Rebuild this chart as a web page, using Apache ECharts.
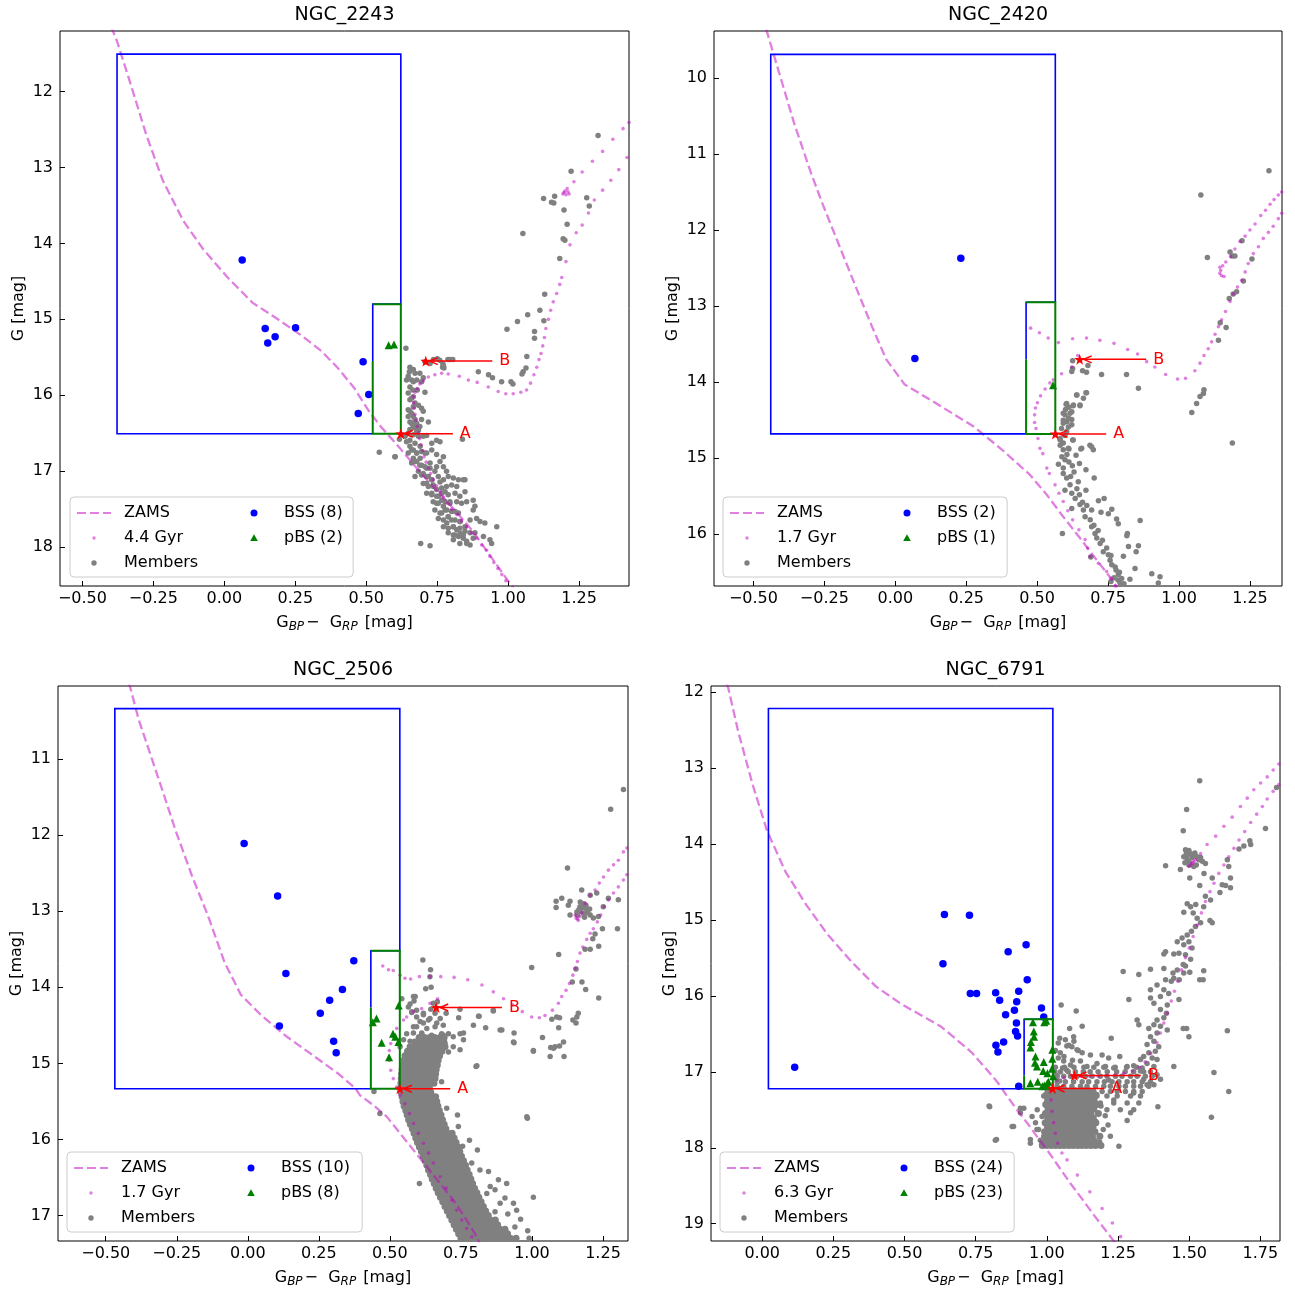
<!DOCTYPE html>
<html><head><meta charset="utf-8">
<script src="https://cdn.jsdelivr.net/npm/echarts@6/dist/echarts.min.js"></script>
<style>html,body{margin:0;padding:0;background:#fff}#c{width:1295px;height:1293px}</style>
</head><body><div id="c"></div>
<script>
// ---------------- DATA ----------------
const titles = ['NGC_2243','NGC_2420','NGC_2506','NGC_6791'];
const isoLabels = ['4.4 Gyr','1.7 Gyr','1.7 Gyr','6.3 Gyr'];
const bssLabels = ['BSS (8)','BSS (2)','BSS (10)','BSS (24)'];
const pbsLabels = ['pBS (2)','pBS (1)','pBS (8)','pBS (23)'];
const xTickValues = [[-0.5,-0.25,0,0.25,0.5,0.75,1,1.25],[-0.5,-0.25,0,0.25,0.5,0.75,1,1.25],[-0.5,-0.25,0,0.25,0.5,0.75,1,1.25],[0,0.25,0.5,0.75,1,1.25,1.5,1.75]];
const yTickValues = [[12,13,14,15,16,17,18],[10,11,12,13,14,15,16],[11,12,13,14,15,16,17],[12,13,14,15,16,17,18,19]];
const xLimits = [[-0.579,1.426],[-0.639,1.363],[-0.668,1.338],[-0.180,1.819]];
const yLimits = [[11.205,18.51],[9.383,16.68],[10.039,17.335],[11.924,19.227]];
// BSS region [left,right,top,bottom,pbsLeft,pbsTop,B mag]
const regionBoxes = [[-0.378,0.622,11.51,16.506,0.523,14.80,15.55],[-0.439,0.564,9.69,14.68,0.461,12.95,13.70],[-0.468,0.535,10.336,15.333,0.433,13.52,14.265],[0.0217,1.021,12.22,17.224,0.920,16.31,17.05]];
// turn-off points A and B: [colour, mag, label colour]
const annotationLabels = ['A','B'];
const turnoffPoints = [
 [[0.622,16.506,0.830],[0.710,15.55,0.969]],
 [[0.564,14.68,0.768],[0.650,13.70,0.909]],
 [[0.535,15.333,0.737],[0.663,14.265,0.919]],
 [[1.020,17.22,1.226],[1.097,17.05,1.355]]];

// ---- NGC 2243 ----
const ngc2243BSS = [[0.063,14.22],[0.144,15.12],[0.153,15.31],[0.179,15.23],[0.251,15.11],[0.489,15.56],[0.509,15.99],[0.472,16.24]];
const ngc2243pBS = [[0.579,15.34],[0.598,15.33]];
const ngc2243Zams = [[-0.40,11.15],[-0.392,11.21],[-0.378,11.34],[-0.332,11.88],[-0.275,12.57],[-0.217,13.17],[-0.145,13.70],[-0.074,14.08],[0.012,14.45],[0.099,14.78],[0.185,14.99],[0.271,15.21],[0.343,15.42],[0.400,15.64],[0.457,15.90],[0.508,16.20],[0.551,16.41],[0.622,16.71],[0.701,17.06],[0.788,17.41],[0.874,17.78],[1.003,18.46],[1.020,18.54]];
const ngc2243Iso = [[0.992,18.44],[0.978,18.36],[0.964,18.28],[0.950,18.20],[0.936,18.12],[0.924,18.04],[0.907,17.97],[0.889,17.88],[0.871,17.81],[0.854,17.73],[0.836,17.65],[0.819,17.57],[0.801,17.50],[0.786,17.42],[0.772,17.34],[0.760,17.27],[0.748,17.19],[0.736,17.11],[0.727,17.03],[0.719,16.96],[0.711,16.88],[0.704,16.81],[0.699,16.73],[0.693,16.65],[0.688,16.57],[0.684,16.49],[0.680,16.41],[0.675,16.33],[0.672,16.25],[0.669,16.17],[0.667,16.10],[0.666,16.02],[0.672,15.96],[0.680,15.91],[0.689,15.85],[0.701,15.81],[0.719,15.76],[0.742,15.73],[0.766,15.71],[0.789,15.72],[0.828,15.75],[0.860,15.80],[0.891,15.83],[0.930,15.89],[0.965,15.95],[0.992,15.98],[1.018,15.98],[1.045,15.96],[1.065,15.93],[1.079,15.84],[1.091,15.73],[1.101,15.63],[1.109,15.53],[1.116,15.45],[1.122,15.35],[1.128,15.24],[1.133,15.12],[1.142,15.00],[1.150,14.88],[1.159,14.77],[1.171,14.66],[1.182,14.54],[1.189,14.45],[1.204,14.24],[1.218,14.02],[1.240,13.86],[1.261,13.76],[1.283,13.60],[1.304,13.43],[1.333,13.30],[1.362,13.17],[1.390,13.03],[1.419,12.87],
 [1.197,13.33],[1.204,13.36],[1.211,13.32],[1.215,13.35],[1.208,13.28],[1.200,13.31],[1.193,13.35],
 [1.232,13.19],[1.261,13.06],[1.297,12.92],[1.333,12.79],[1.369,12.63],[1.405,12.49],[1.426,12.41]];
const ngc2243Members = [
 [1.317,12.58],[1.222,13.05],[1.164,13.38],[1.125,13.41],[1.153,13.46],[1.161,13.47],[1.197,13.56],[1.277,13.40],[1.286,13.51],[1.208,13.75],[1.194,13.94],[1.200,13.96],[1.052,13.87],[1.182,14.20],[1.129,14.67],[1.069,14.94],[1.112,14.88],[1.126,15.02],[1.033,15.03],[0.996,15.13],[1.093,15.16],[1.093,15.25],[1.066,15.49],[1.063,15.64],[1.053,15.69],[1.049,15.72],[0.895,15.69],[0.931,15.73],[0.945,15.77],[0.977,15.82],[1.010,15.82],[1.017,15.85],
 [0.737,15.53],[0.759,15.54],[0.788,15.53],[0.769,15.63],[0.770,15.58],[0.640,15.38],[0.751,15.52],[0.795,15.53],[0.805,15.53],[0.707,15.56],[0.725,15.58],[0.772,15.61],[0.774,15.64],
 [0.654,15.63],[0.652,15.69],[0.648,15.75],[0.642,15.80],[0.660,15.80],[0.666,15.82],[0.678,15.80],[0.695,15.82],[0.701,15.77],[0.689,15.71],[0.672,15.71],[0.666,15.66],[0.654,15.89],[0.664,15.93],[0.680,15.93],[0.707,15.96],[0.648,15.97],[0.666,16.02],[0.660,16.04],[0.654,16.06],[0.672,16.10],[0.684,16.13],[0.666,16.15],[0.695,16.17],[0.648,16.19],[0.701,16.21],[0.654,16.21],[0.660,16.24],[0.666,16.28],[0.672,16.32],[0.695,16.32],[0.719,16.35],[0.654,16.35],[0.660,16.37],[0.678,16.37],[0.666,16.41],[0.689,16.41],[0.672,16.43],[0.654,16.45],[0.678,16.48],[0.648,16.50],[0.666,16.52],[0.684,16.54],[0.701,16.54],[0.713,16.53],[0.637,16.54],[0.731,16.63],[0.748,16.59],[0.760,16.61],[0.642,16.61],[0.617,16.58],[0.601,16.81],[0.546,16.75],[0.839,16.58],
 [0.654,16.67],[0.666,16.72],[0.648,16.76],[0.678,16.76],[0.695,16.74],[0.713,16.76],[0.731,16.72],[0.748,16.78],[0.772,16.81],[0.760,16.87],[0.666,16.83],[0.678,16.87],[0.660,16.89],[0.689,16.92],[0.707,16.94],[0.725,16.96],[0.748,16.94],[0.772,16.94],[0.783,17.00],[0.684,17.00],[0.695,17.05],[0.672,17.07],[0.713,17.07],[0.731,17.11],[0.754,17.07],[0.772,17.11],[0.789,17.07],[0.807,17.09],[0.825,17.11],[0.842,17.11],[0.701,17.16],[0.719,17.20],[0.736,17.18],[0.766,17.22],[0.783,17.20],[0.801,17.18],[0.819,17.20],[0.713,17.29],[0.731,17.31],[0.748,17.33],[0.766,17.29],[0.789,17.31],[0.813,17.29],[0.830,17.33],[0.848,17.27],[0.736,17.40],[0.754,17.42],[0.778,17.40],[0.795,17.42],[0.819,17.40],[0.836,17.42],[0.854,17.40],[0.877,17.38],[0.742,17.51],[0.760,17.55],[0.778,17.51],[0.801,17.53],[0.825,17.55],[0.877,17.51],[0.883,17.46],[0.754,17.62],[0.772,17.64],[0.789,17.60],[0.813,17.64],[0.830,17.66],[0.866,17.64],[0.889,17.62],[0.901,17.66],[0.772,17.73],[0.789,17.75],[0.807,17.73],[0.830,17.75],[0.848,17.73],[0.918,17.68],[0.960,17.73],[0.789,17.81],[0.807,17.84],[0.825,17.86],[0.842,17.84],[0.866,17.81],[0.883,17.81],[0.913,17.86],[0.807,17.90],[0.830,17.95],[0.854,17.95],[0.877,17.88],[0.936,17.90],[0.942,17.95],[0.692,17.95],[0.725,17.98],[0.848,17.11],
 [0.654,16.59],[0.672,16.63],[0.660,16.72],[0.678,16.76],[0.690,16.83],[0.672,16.87],[0.695,16.92],[0.713,16.96],[0.701,17.03],[0.719,17.07],[0.731,17.11],[0.713,17.16],[0.737,17.20],[0.748,17.24],[0.731,17.29],[0.754,17.33],[0.766,17.38],[0.748,17.42],[0.772,17.46],[0.784,17.51],[0.766,17.55],[0.789,17.60],[0.801,17.64],[0.784,17.68],[0.807,17.73],[0.819,17.77],[0.831,17.82],[0.813,17.84],[0.842,17.88],[0.854,17.92],[0.866,17.97],[0.684,16.46],[0.666,16.37],[0.648,16.28],[0.690,16.67],[0.707,16.76],[0.725,16.89],[0.742,17.00],[0.760,17.14],[0.778,17.27],[0.795,17.40],[0.813,17.53],[0.831,17.66],[0.848,17.79],[0.602,16.81]];

// ---- NGC 2420 ----
const ngc2420BSS = [[0.231,12.37],[0.069,13.69]];
const ngc2420pBS = [[0.556,14.04]];
const ngc2420Zams = [[-0.455,9.36],[-0.451,9.38],[-0.400,10.05],[-0.357,10.59],[-0.299,11.23],[-0.256,11.66],[-0.198,12.20],[-0.140,12.74],[-0.082,13.27],[-0.032,13.70],[0.033,14.03],[0.149,14.29],[0.279,14.59],[0.380,14.90],[0.475,15.22],[0.534,15.48],[0.592,15.77],[0.651,16.05],[0.710,16.34],[0.769,16.62],[0.785,16.72]];
const ngc2420Iso = [[0.775,16.68],[0.760,16.58],[0.745,16.49],[0.716,16.38],[0.687,16.29],[0.678,16.18],[0.669,16.07],[0.647,15.94],[0.625,15.81],[0.608,15.69],[0.592,15.57],[0.577,15.46],[0.563,15.35],[0.543,15.20],[0.534,15.13],[0.520,14.94],[0.510,14.87],[0.503,14.74],[0.496,14.61],[0.491,14.53],[0.491,14.43],[0.494,14.34],[0.501,14.27],[0.512,14.18],[0.528,14.09],[0.545,14.01],[0.557,13.97],[0.586,13.89],[0.622,13.80],[0.643,13.65],
 [0.477,13.29],[0.508,13.35],[0.539,13.42],[0.575,13.48],[0.625,13.43],[0.674,13.42],[0.721,13.45],[0.771,13.49],[0.819,13.57],[0.854,13.63],[0.886,13.73],[0.915,13.80],[0.953,13.90],[0.995,13.96],[1.023,13.95],[1.056,13.85],[1.074,13.75],[1.088,13.65],[1.103,13.56],[1.115,13.47],[1.127,13.37],[1.139,13.27],[1.150,13.18],[1.164,13.07],[1.180,12.94],[1.192,12.84],[1.206,12.75],[1.221,12.66],[1.233,12.55],[1.244,12.44],[1.262,12.31],[1.280,12.22],[1.297,12.11],[1.315,12.03],[1.332,11.95],[1.350,11.85],[1.362,11.78],
 [1.147,12.53],[1.144,12.57],[1.150,12.60],[1.159,12.61],[1.144,12.49],[1.154,12.47],[1.165,12.42],
 [1.182,12.35],[1.197,12.25],[1.215,12.15],[1.233,12.08],[1.250,12.00],[1.268,11.92],[1.288,11.81],[1.305,11.74],[1.321,11.66],[1.335,11.60],[1.350,11.54],[1.362,11.50]];
const ngc2420Members = [
 [1.317,11.22],[1.077,11.54],[1.100,12.36],[1.180,12.29],[1.188,12.34],[1.197,12.34],[1.222,12.14],[1.257,12.38],[1.227,12.67],[1.203,12.81],[1.191,12.84],[1.177,12.90],[1.145,13.22],[1.166,13.28],[1.139,13.45],[0.625,13.72],[0.660,13.85],[0.674,13.87],[0.679,13.78],[0.625,13.82],[0.622,13.86],[0.727,13.90],[0.815,13.90],[0.857,14.08],[1.088,14.10],[1.074,14.19],[1.062,14.28],[1.045,14.40],[1.086,14.15],[1.188,14.80],
 [0.674,14.14],[0.663,14.21],[0.639,14.17],[0.651,14.30],[0.627,14.31],[0.604,14.28],[0.616,14.41],[0.598,14.43],[0.622,14.49],[0.592,14.50],[0.610,14.59],[0.586,14.61],[0.604,14.65],[0.581,14.76],[0.592,14.80],[0.627,14.76],[0.610,14.87],[0.657,14.87],[0.686,14.83],
 [0.672,14.14],[0.640,14.17],[0.602,14.29],[0.628,14.30],[0.651,14.31],[0.592,14.41],[0.622,14.39],[0.610,14.47],[0.622,14.56],[0.592,14.54],[0.581,14.74],[0.625,14.76],[0.581,14.83],[0.592,14.89],[0.612,14.88],[0.654,14.88],[0.692,14.85],[0.698,14.89],[0.587,14.98],[0.598,15.02],[0.637,14.96],[0.575,15.08],[0.592,15.13],[0.624,15.10],[0.649,15.07],[0.672,15.15],[0.592,15.20],[0.604,15.26],[0.618,15.24],[0.701,15.26],[0.645,15.31],[0.616,15.35],[0.598,15.42],[0.672,15.42],[0.622,15.46],[0.634,15.53],[0.649,15.48],[0.716,15.56],[0.736,15.53],[0.651,15.61],[0.622,15.66],[0.663,15.68],[0.692,15.68],[0.725,15.71],[0.751,15.73],[0.763,15.67],[0.669,15.77],[0.687,15.81],[0.780,15.80],[0.786,15.86],[0.863,15.82],[0.589,15.99],[0.692,15.90],[0.704,15.99],[0.710,16.05],[0.818,15.99],[0.816,16.02],[0.722,16.12],[0.822,16.16],[0.857,16.15],[0.849,16.23],[0.733,16.23],[0.751,16.27],[0.689,16.30],[0.804,16.29],[0.757,16.34],[0.763,16.40],[0.845,16.45],[0.778,16.47],[0.786,16.53],[0.798,16.58],[0.827,16.59],[0.904,16.52],[0.933,16.56],[0.927,16.64],[0.792,16.64],[0.785,16.60],[0.806,16.65],[0.771,16.57],[0.760,16.62],
 [0.600,14.36],[0.612,14.33],[0.605,14.52],[0.598,14.70],[0.605,14.95],[0.612,15.05],[0.630,15.18],[0.640,15.40],[0.660,15.58],[0.675,15.62],[0.700,15.88],[0.715,15.95],[0.730,16.08],[0.745,16.18],[0.760,16.28],[0.775,16.43],[0.790,16.50]];

// ---- NGC 2506 ----
const ngc2506BSS = [[-0.013,12.11],[0.105,12.80],[0.134,13.82],[0.373,13.65],[0.333,14.03],[0.288,14.17],[0.255,14.34],[0.111,14.51],[0.302,14.71],[0.311,14.86]];
const ngc2506pBS = [[0.531,14.24],[0.453,14.41],[0.440,14.46],[0.511,14.61],[0.519,14.65],[0.530,14.72],[0.471,14.73],[0.497,14.92]];
const ngc2506Zams = [[-0.420,10.00],[-0.415,10.04],[-0.384,10.48],[-0.340,10.97],[-0.297,11.45],[-0.254,11.94],[-0.197,12.53],[-0.139,13.07],[-0.082,13.67],[-0.024,14.10],[0.048,14.37],[0.134,14.64],[0.235,14.91],[0.320,15.14],[0.379,15.33],[0.395,15.42],[0.442,15.55],[0.489,15.70],[0.536,15.92],[0.583,16.14],[0.630,16.36],[0.677,16.58],[0.724,16.80],[0.770,17.06],[0.806,17.28],[0.815,17.36]];
const ngc2506Iso = [[0.788,17.28],[0.770,17.17],[0.753,17.06],[0.735,16.93],[0.718,16.80],[0.698,16.64],[0.677,16.49],[0.653,16.31],[0.636,16.18],[0.618,16.05],[0.600,15.92],[0.583,15.79],[0.569,15.66],[0.553,15.53],[0.536,15.42],[0.524,15.31],[0.512,15.20],[0.503,15.09],[0.498,14.96],[0.498,14.83],[0.503,14.74],[0.512,14.65],[0.524,14.54],[0.548,14.43],[0.559,14.39],[0.583,14.32],[0.612,14.28],[0.641,14.21],[0.668,14.15],
 [0.475,13.72],[0.495,13.77],[0.512,13.78],[0.536,13.84],[0.553,13.88],[0.573,13.89],[0.604,13.86],[0.641,13.86],[0.679,13.86],[0.726,13.87],[0.774,13.90],[0.824,13.97],[0.864,14.06],[0.900,14.15],[0.932,14.23],[0.966,14.32],[0.999,14.39],[1.026,14.40],[1.046,14.37],[1.072,14.30],[1.093,14.21],[1.105,14.12],[1.120,14.04],[1.132,13.95],[1.144,13.84],[1.152,13.75],[1.160,13.66],[1.169,13.55],[1.179,13.47],[1.193,13.37],[1.205,13.29],[1.216,13.23],[1.230,13.14],[1.242,13.05],[1.254,12.94],[1.269,12.85],[1.287,12.76],[1.304,12.68],[1.322,12.59],[1.334,12.52],
 [1.187,12.90],[1.205,12.79],[1.222,12.72],[1.237,12.63],[1.252,12.55],[1.269,12.46],[1.287,12.39],[1.304,12.33],[1.322,12.22],[1.334,12.17],
 [1.155,13.09],[1.163,13.12],[1.169,13.07],[1.152,13.05],[1.160,13.10],[1.175,13.02]];
const ngc2506Members = [
 [1.322,11.40],[1.277,11.66],[1.125,12.43],[1.085,12.87],[1.105,12.83],[1.085,12.95],[1.134,12.87],[1.128,12.92],[1.175,12.72],[1.205,12.79],[1.228,12.76],[1.269,12.83],[1.304,12.85],[1.169,12.94],[1.183,12.90],[1.193,12.98],[1.181,13.03],[1.205,13.05],[1.216,13.09],[1.234,13.07],[1.251,12.94],[1.158,13.01],[1.134,13.05],[1.248,13.23],[1.301,13.23],[1.222,13.30],[1.214,13.36],[1.235,13.46],[1.205,13.50],[1.187,13.50],[1.094,13.57],[0.999,13.74],[1.155,13.76],[1.142,13.93],[1.176,13.93],[1.189,14.03],[1.235,14.14],
 [1.165,12.98],[1.172,13.00],[1.178,12.95],[1.190,12.92],[1.160,13.05],[1.185,13.08],[1.196,13.02],[1.203,12.97],[1.170,12.88],
 [0.616,13.64],[0.643,13.77],[0.641,13.86],[0.626,14.02],[0.645,14.00],[0.589,14.12],[0.585,14.18],[0.565,14.26],[0.577,14.33],[0.644,14.29],[0.667,14.19],[0.698,14.34],[0.747,14.29],[0.742,14.40],[0.812,14.38],[0.837,14.53],[0.864,14.30],[0.894,14.56],[0.937,14.60],[0.935,14.72],[1.037,14.66],[1.005,14.83],[1.070,14.42],[1.097,14.40],[1.094,14.53],[1.066,14.79],[1.081,14.78],[1.097,14.77],[1.111,14.72],[1.113,14.91],[1.064,14.91],[1.155,14.47],[1.163,14.34],[1.158,14.39],[1.144,14.43],[0.803,15.04],[0.444,15.37],[0.465,15.66],[0.982,15.70],[0.984,15.72],[1.005,16.76],[0.604,16.58],
 [0.806,15.03],[0.682,15.24],[0.700,15.59],[0.738,15.68],[0.741,15.83],[0.780,16.01],[0.756,16.09],[0.808,16.14],[0.788,16.31],[0.817,16.40],[0.847,16.42],[0.882,16.53],[0.853,16.62],[0.911,16.58],[0.870,16.66],[0.841,16.71],[0.905,16.77],[0.935,16.84],[0.888,16.84],[0.946,16.93],[0.706,14.85],[0.680,14.82],[0.723,14.78],[0.759,14.69],[0.747,14.82],[0.937,14.73],[1.005,14.84],[1.076,14.80],[1.087,14.39],[0.888,14.56],[0.864,14.31],[0.814,14.38],[0.794,14.50],[0.759,14.60],[0.653,14.21],[0.583,14.12],[0.577,14.32],[0.594,14.39],[0.618,14.34],[0.641,14.41],[0.665,14.47],[0.618,14.47],[0.594,14.52],[0.583,14.60],[0.612,14.60],[0.688,14.63],[0.571,14.71],
 [0.542,14.15],[0.571,14.22],[0.594,14.30],[0.618,14.36],[0.636,14.43],[0.659,14.34],[0.677,14.41],[0.606,14.45],[0.583,14.52],[0.559,14.61],[0.630,14.54],[0.659,14.52],[0.688,14.50],[0.682,14.61],[0.548,14.69],[0.536,14.78],[0.706,14.61],[0.723,14.65],[0.747,14.61],[0.694,14.74],[0.647,14.63],[0.612,14.61],
 [0.960,17.05],[0.985,17.20],[0.990,17.30],[0.940,17.15],[0.915,16.98],[0.870,16.95]];
// saturated main-sequence band, read row by row: [G, [colours]]
const ngc2506MainSequenceRows = [
 [14.66,[0.603,0.622,0.640,0.657,0.676,0.691]],
 [14.72,[0.588,0.604,0.623,0.641,0.655,0.674,0.690]],
 [14.78,[0.571,0.590,0.607,0.622,0.643,0.661,0.677,0.694]],
 [14.84,[0.562,0.579,0.596,0.614,0.632,0.649,0.664,0.683]],
 [14.90,[0.553,0.571,0.589,0.604,0.624,0.640,0.658,0.675]],
 [14.96,[0.549,0.566,0.582,0.601,0.617,0.636,0.652,0.670]],
 [15.02,[0.546,0.563,0.580,0.598,0.614,0.633,0.649,0.667]],
 [15.08,[0.543,0.561,0.577,0.596,0.612,0.630,0.647,0.663]],
 [15.14,[0.541,0.559,0.575,0.593,0.611,0.627,0.645,0.661]],
 [15.20,[0.540,0.557,0.574,0.591,0.609,0.626,0.643,0.659]],
 [15.26,[0.539,0.556,0.573,0.590,0.607,0.624,0.641,0.655]],
 [15.32,[0.538,0.555,0.572,0.589,0.606,0.623,0.639]],
 [15.38,[0.540,0.557,0.575,0.591,0.609,0.626,0.644]],
 [15.44,[0.543,0.560,0.578,0.594,0.612,0.629,0.647,0.661]],
 [15.50,[0.546,0.563,0.581,0.597,0.615,0.632,0.649,0.665]],
 [15.56,[0.550,0.568,0.584,0.602,0.619,0.636,0.653,0.669]],
 [15.62,[0.556,0.572,0.590,0.606,0.624,0.641,0.658,0.674]],
 [15.68,[0.561,0.578,0.594,0.612,0.629,0.646,0.663,0.680]],
 [15.74,[0.566,0.584,0.600,0.617,0.635,0.652,0.669,0.685]],
 [15.80,[0.572,0.589,0.606,0.624,0.641,0.657,0.675,0.691]],
 [15.86,[0.579,0.596,0.612,0.630,0.647,0.664,0.681,0.697]],
 [15.92,[0.585,0.601,0.619,0.636,0.653,0.670,0.687,0.703,0.719]],
 [15.98,[0.591,0.608,0.625,0.642,0.660,0.677,0.694,0.710,0.726]],
 [16.04,[0.597,0.615,0.632,0.649,0.666,0.683,0.700,0.717,0.733]],
 [16.10,[0.604,0.621,0.638,0.656,0.673,0.690,0.707,0.724,0.740]],
 [16.16,[0.611,0.628,0.645,0.662,0.679,0.696,0.713,0.730,0.746]],
 [16.22,[0.617,0.634,0.651,0.669,0.686,0.703,0.720,0.737,0.752]],
 [16.28,[0.624,0.641,0.657,0.675,0.692,0.709,0.726,0.743,0.759]],
 [16.34,[0.630,0.647,0.664,0.682,0.699,0.716,0.733,0.750,0.766]],
 [16.40,[0.636,0.653,0.671,0.688,0.705,0.722,0.739,0.756,0.772]],
 [16.46,[0.643,0.659,0.677,0.694,0.711,0.728,0.745,0.762,0.779]],
 [16.52,[0.649,0.666,0.683,0.700,0.717,0.734,0.751,0.768,0.785]],
 [16.58,[0.656,0.673,0.690,0.707,0.724,0.741,0.758,0.775,0.791]],
 [16.64,[0.663,0.680,0.697,0.714,0.731,0.748,0.765,0.782,0.798]],
 [16.70,[0.670,0.687,0.704,0.722,0.739,0.756,0.773,0.790,0.806]],
 [16.76,[0.678,0.695,0.712,0.729,0.746,0.763,0.780,0.797,0.813]],
 [16.82,[0.686,0.703,0.720,0.737,0.754,0.771,0.788,0.805,0.821]],
 [16.88,[0.694,0.711,0.728,0.745,0.762,0.779,0.796,0.813,0.829]],
 [16.94,[0.702,0.719,0.736,0.753,0.770,0.787,0.804,0.821,0.837]],
 [17.00,[0.710,0.727,0.744,0.761,0.778,0.795,0.812,0.829,0.846]],
 [17.06,[0.718,0.735,0.752,0.769,0.786,0.803,0.820,0.837,0.854,0.871]],
 [17.12,[0.726,0.743,0.760,0.777,0.794,0.811,0.828,0.845,0.862,0.879]],
 [17.18,[0.734,0.751,0.768,0.785,0.802,0.819,0.836,0.853,0.870,0.888,0.905]],
 [17.24,[0.742,0.759,0.776,0.793,0.810,0.827,0.844,0.861,0.878,0.896,0.914]],
 [17.30,[0.750,0.767,0.784,0.801,0.818,0.835,0.852,0.869,0.886,0.904,0.924,0.944]],
 [17.35,[0.758,0.776,0.793,0.810,0.827,0.844,0.861,0.878,0.895,0.913,0.932,0.952]]];

// ---- NGC 6791 ----
const ngc6791BSS = [[0.640,14.93],[0.728,14.94],[0.927,15.33],[0.864,15.42],[0.635,15.58],[0.931,15.79],[0.731,15.97],[0.753,15.97],[0.820,15.96],[0.901,15.94],[0.834,16.06],[0.894,16.08],[0.886,16.19],[0.855,16.25],[0.981,16.16],[0.989,16.28],[0.893,16.36],[0.890,16.47],[0.897,16.53],[0.848,16.61],[0.821,16.65],[0.828,16.74],[0.901,17.19],[0.114,16.94]];
const ngc6791pBS = [[0.951,16.35],[0.991,16.35],[0.998,16.33],[0.955,16.54],[0.944,16.61],[0.942,16.68],[0.960,16.80],[0.958,16.88],[0.965,16.93],[0.989,16.87],[1.019,16.71],[1.019,16.83],[0.987,16.99],[1.002,17.02],[0.968,17.13],[0.942,17.15],[1.022,17.06],[1.005,17.13],[0.991,17.18],[1.000,17.16],[0.984,17.19],[1.018,16.96],[0.954,16.47]];
const ngc6791Zams = [[-0.125,11.90],[-0.120,11.94],[-0.084,12.53],[-0.033,13.23],[0.017,13.83],[0.082,14.37],[0.154,14.80],[0.227,15.18],[0.313,15.55],[0.400,15.88],[0.485,16.10],[0.555,16.25],[0.626,16.40],[0.684,16.58],[0.737,16.75],[0.784,16.95],[0.825,17.13],[0.860,17.32],[0.895,17.50],[0.930,17.67],[0.965,17.85],[1.001,18.03],[1.040,18.24],[1.083,18.47],[1.125,18.68],[1.168,18.90],[1.211,19.11],[1.250,19.30]];
const ngc6791Iso = [[1.259,19.17],[1.230,18.99],[1.194,18.80],[1.151,18.58],[1.107,18.36],[1.071,18.16],[1.053,18.07],[1.038,17.94],[1.030,17.81],[1.024,17.67],[1.018,17.52],[1.015,17.37],[1.012,17.24],
 [1.020,17.16],[1.035,17.11],[1.060,17.08],[1.090,17.07],[1.120,17.06],[1.150,17.06],[1.180,17.06],[1.210,17.05],[1.240,17.04],[1.270,17.02],[1.300,16.99],[1.325,16.94],[1.345,16.87],[1.365,16.76],
 [1.387,16.62],[1.399,16.49],[1.411,16.36],[1.423,16.23],[1.437,16.07],[1.448,15.94],[1.460,15.81],[1.473,15.66],[1.487,15.50],[1.500,15.37],[1.514,15.22],[1.528,15.07],[1.543,14.91],[1.557,14.76],[1.573,14.63],[1.587,14.52],[1.604,14.39],[1.622,14.28],[1.639,14.17],[1.657,14.06],[1.675,13.95],[1.695,13.84],[1.716,13.72],[1.737,13.61],[1.757,13.51],[1.774,13.41],[1.795,13.31],[1.815,13.22],
 [1.510,14.26],[1.505,14.28],[1.516,14.23],[1.522,14.21],[1.500,14.30],[1.513,14.25],
 [1.540,14.13],[1.563,14.01],[1.593,13.90],[1.622,13.77],[1.651,13.65],[1.680,13.51],[1.704,13.40],[1.727,13.29],[1.751,13.20],[1.774,13.12],[1.795,13.03],[1.815,12.95]];
const ngc6791Members = [
 [1.537,13.17],[1.491,13.55],[1.479,13.83],[1.807,13.26],[1.768,13.80],[1.713,13.96],[1.716,14.01],[1.675,14.07],[1.692,14.03],[1.634,14.21],[1.639,14.30],[1.645,14.45],[1.645,14.58],[1.616,14.54],[1.628,14.55],[1.608,14.64],[1.581,14.45],[1.417,14.29],[1.469,14.34],[1.487,14.08],[1.499,14.09],[1.493,14.15],[1.505,14.13],[1.516,14.15],[1.528,14.17],[1.534,14.21],[1.546,14.23],[1.557,14.26],[1.493,14.21],[1.481,14.17],[1.499,14.28],[1.516,14.30],[1.552,14.39],[1.502,14.45],[1.537,14.55],[1.575,14.74],[1.557,14.69],[1.551,14.83],[1.493,14.79],[1.505,14.83],[1.523,14.80],[1.481,14.90],[1.514,14.91],[1.528,14.98],[1.540,15.04],[1.522,15.09],[1.573,15.01],[1.581,15.04],[1.508,15.15],[1.493,15.20],[1.475,15.24],[1.458,15.29],[1.481,15.33],[1.499,15.29],[1.510,15.37],[1.487,15.46],[1.464,15.44],[1.446,15.45],[1.411,15.45],[1.479,15.59],[1.487,15.61],[1.458,15.66],[1.443,15.70],[1.481,15.70],[1.502,15.69],[1.551,15.67],[1.537,15.79],[1.465,15.79],[1.446,15.77],[1.437,15.81],[1.417,15.79],[1.387,15.86],[1.411,15.92],[1.428,15.97],[1.464,16.05],[1.399,16.01],[1.364,15.92],[1.364,16.03],[1.376,16.10],[1.423,16.12],[1.399,16.18],[1.420,16.23],[1.411,16.29],[1.387,16.32],[1.376,16.38],[1.358,16.43],[1.399,16.40],[1.423,16.45],[1.317,16.32],[1.323,16.38],[1.288,16.05],[1.268,15.68],[1.323,15.72],[1.364,15.65],[1.411,15.64],[1.417,15.42],[1.505,15.52],[1.549,15.79],
 [1.387,16.49],[1.364,16.54],[1.376,16.60],[1.352,16.64],[1.393,16.67],[1.381,16.73],[1.358,16.75],[1.340,16.80],[1.370,16.82],[1.387,16.84],[1.329,16.84],[1.352,16.89],[1.376,16.93],[1.335,16.95],[1.364,17.00],[1.387,17.04],[1.446,16.93],[1.479,16.43],[1.491,16.43],[1.499,16.54],[1.634,16.46],[1.587,17.01],[1.639,17.26],[1.578,17.60],[1.390,17.46],[1.329,17.32],[1.305,17.28],[1.352,17.17],[1.376,17.17],[1.399,17.10],[1.340,17.10],
 [1.490,14.12],[1.510,14.18],[1.520,14.12],[1.500,14.24],[1.525,14.28],[1.540,14.18],[1.485,14.25],
 [1.050,16.12],[1.103,16.20],[1.080,16.43],[1.124,16.40],[1.094,16.54],[1.045,16.56],[1.065,16.58],[1.077,16.65],[1.088,16.67],[1.106,16.71],[1.124,16.75],[1.153,16.78],[1.194,16.78],[1.217,16.82],[1.256,16.80],[1.226,16.56],[1.047,16.75],[1.059,16.86],[1.083,16.91],[1.118,16.86],[1.141,16.93],[1.176,16.89],[1.206,16.93],[1.235,16.95],[1.282,16.93],[1.305,16.92],[1.329,16.99],[1.217,17.11],
 [1.235,17.37],[1.294,17.54],[1.282,17.64],[1.223,17.85],[1.253,17.98],[1.198,17.76],[1.155,17.85],[1.171,17.65],[1.153,17.54],[1.205,17.58],[1.190,17.45],[1.175,17.30],[1.215,17.70],[1.185,17.92],
 [0.799,17.46],[0.823,17.89],[0.878,17.72],[0.907,17.54],[0.919,17.48],[0.966,17.50],[0.983,17.59],[0.960,17.67],[0.971,17.76],[0.989,17.85],[0.983,17.94],[0.942,17.89],[1.001,17.37],[1.007,17.30],[0.989,17.32],[0.883,17.72],[0.907,17.48],[0.948,17.59],[0.965,17.76],[0.942,17.94],[0.977,17.90],[0.797,17.45],[0.819,17.90],
 [1.030,16.72],[1.040,16.82],[1.055,16.95],[1.035,17.05],[1.070,16.98],[1.045,17.12],[1.040,16.62],[1.070,16.66],[1.095,16.60],[1.110,16.72],[1.060,16.80],[1.090,16.85]];
// sub-giant band, read row by row: [G, [colours]]
const ngc6791SubgiantRows = [
 [16.94,[1.030,1.062,1.095,1.130,1.165,1.200,1.240,1.280,1.315]],
 [17.00,[1.028,1.048,1.075,1.100,1.128,1.152,1.180,1.212,1.245,1.275,1.305,1.340]],
 [17.06,[1.036,1.059,1.083,1.106,1.135,1.159,1.188,1.211,1.241,1.264,1.294,1.317,1.346,1.370]],
 [17.13,[1.036,1.065,1.094,1.124,1.147,1.176,1.202,1.229,1.253,1.282,1.305,1.335,1.364]],
 [17.19,[1.036,1.059,1.088,1.118,1.141,1.171,1.200,1.223,1.253,1.276,1.305,1.329,1.358]],
 [17.26,[1.047,1.077,1.106,1.135,1.165,1.194,1.223,1.247,1.276,1.305,1.335]],
 [17.32,[1.141,1.176,1.211,1.247,1.294]],
 [17.41,[1.188,1.235,1.282,1.323]],
 [17.50,[1.211,1.258,1.305]]];
// saturated main-sequence blob below the turn-off, read row by row: [G, [colours]]
const ngc6791BlobRows = [
 [17.25,[1.004,1.019,1.035,1.052,1.067,1.083,1.099,1.116,1.131,1.147]],
 [17.31,[0.997,1.012,1.028,1.044,1.060,1.076,1.092,1.108,1.124,1.140,1.156]],
 [17.37,[1.003,1.019,1.035,1.051,1.067,1.083,1.099,1.115,1.131,1.148,1.166]],
 [17.43,[0.996,1.012,1.028,1.045,1.061,1.077,1.093,1.109,1.125,1.141,1.157,1.176]],
 [17.49,[1.004,1.020,1.036,1.052,1.068,1.084,1.100,1.116,1.132,1.149,1.165]],
 [17.55,[0.995,1.011,1.027,1.043,1.059,1.075,1.091,1.107,1.123,1.139,1.155,1.181]],
 [17.61,[1.003,1.019,1.035,1.051,1.067,1.083,1.099,1.115,1.131,1.147,1.163]],
 [17.67,[0.994,1.010,1.026,1.042,1.058,1.074,1.090,1.106,1.122,1.138,1.154,1.172]],
 [17.73,[1.002,1.018,1.034,1.050,1.066,1.082,1.098,1.114,1.130,1.146,1.162]],
 [17.79,[0.992,1.008,1.024,1.040,1.056,1.072,1.088,1.104,1.120,1.136,1.152,1.169]],
 [17.85,[1.000,1.016,1.032,1.048,1.064,1.080,1.096,1.112,1.128,1.144,1.160,1.186]],
 [17.91,[0.990,1.006,1.022,1.038,1.054,1.070,1.086,1.102,1.118,1.134,1.150,1.167]],
 [17.97,[0.984,1.000,1.016,1.031,1.046,1.061,1.077,1.092,1.108,1.123,1.139,1.155,1.171,1.190]]];

// ---------------- CHART ----------------
const rowsToPoints = rows => rows.flatMap(r => r[1].map(x => [x, r[0]]));
const members = [ngc2243Members, ngc2420Members, ngc2506Members, ngc6791Members.concat(rowsToPoints(ngc6791SubgiantRows))];
const denseMembers = [[], [], rowsToPoints(ngc2506MainSequenceRows), rowsToPoints(ngc6791BlobRows)];
const zams = [ngc2243Zams, ngc2420Zams, ngc2506Zams, ngc6791Zams];
const isochrones = [ngc2243Iso, ngc2420Iso, ngc2506Iso, ngc6791Iso];
const bss = [ngc2243BSS, ngc2420BSS, ngc2506BSS, ngc6791BSS];
const pbs = [ngc2243pBS, ngc2420pBS, ngc2506pBS, ngc6791pBS];

const FONT = 'DejaVu Sans';
const ISO_COLOR = 'rgba(191,0,191,0.5)';
const grids = [
  {left:60, top:31, width:569, height:555},
  {left:714, top:31, width:568, height:555},
  {left:58, top:686, width:570, height:555},
  {left:711, top:686, width:569, height:555}];
const legendBoxes = [{left:70, top:497, w:283},{left:723, top:497, w:284},{left:67, top:1152, w:295},{left:720, top:1152, w:294}];
const titleTops = [6, 6, 661, 661];

const starPath = 'path://M0,-10 L2.35,-3.24 L9.51,-3.09 L3.8,1.24 L5.88,8.09 L0,4 L-5.88,8.09 L-3.8,1.24 L-9.51,-3.09 L-2.35,-3.24 Z';
const dashIcon = 'path://M0,0 M45,14 M3,5.9 h9 v2.2 h-9 z M16,5.9 h9 v2.2 h-9 z M29,5.9 h8 v2.2 h-8 z';
const smallDotIcon = 'path://M0,0 M45,14 M18.3,7 a1.7,1.7 0 1,0 3.4,0 a1.7,1.7 0 1,0 -3.4,0 z';
const memDotIcon = 'path://M0,0 M45,14 M17.3,7 a2.7,2.7 0 1,0 5.4,0 a2.7,2.7 0 1,0 -5.4,0 z';
const bssIcon = 'path://M0,0 M45,14 M16.5,7 a3.5,3.5 0 1,0 7,0 a3.5,3.5 0 1,0 -7,0 z';
const triIcon = 'path://M0,0 M45,14 M20,3.2 L23.8,10 L16.2,10 Z';

const fmtX = v => (v < 0 ? '\u2212' : '') + Math.abs(v).toFixed(2);

function boxRender(params, api) {
  const L = api.value(0), R = api.value(1), T = api.value(2), B = api.value(3), PL = api.value(4), PT = api.value(5), BY = api.value(6);
  const c = (x, y) => api.coord([x, y]);
  return {type:'group', children:[
    {type:'polyline', shape:{points:[c(PL,B),c(L,B),c(L,T),c(R,T),c(R,PT),c(PL,PT),c(PL,BY)]}, style:{stroke:'#0000ff', lineWidth:1.6, fill:null}},
    {type:'polyline', shape:{points:[c(PL,BY),c(PL,B),c(R,B),c(R,PT),c(PL,PT)]}, style:{stroke:'#008000', lineWidth:2, fill:null}}
  ]};
}
function arrowRender(params, api) {
  const tip = api.coord([api.value(0), api.value(1)]);
  const tx = api.coord([api.value(2), api.value(1)]);
  const x0 = tip[0] + 4, y0 = tip[1], x1 = tx[0] - 7;
  return {type:'group', children:[
    {type:'line', shape:{x1:x1, y1:y0, x2:x0, y2:y0}, style:{stroke:'#ff0000', lineWidth:1.5}},
    {type:'polyline', shape:{points:[[x0+8,y0-3.5],[x0,y0],[x0+8,y0+3.5]]}, style:{stroke:'#ff0000', lineWidth:1.5, fill:null}},
    {type:'text', x:tx[0], y:y0, style:{text:annotationLabels[params.dataIndex], fill:'#ff0000', fontSize:16, fontFamily:FONT, align:'left', verticalAlign:'middle'}}
  ]};
}

const option = {animation:false, backgroundColor:'#ffffff', textStyle:{fontFamily:FONT},
  title:[], grid:[], xAxis:[], yAxis:[], legend:[], series:[]};

for (let i = 0; i < 4; i++) {
  const g = grids[i];
  option.grid.push(Object.assign({show:true, borderColor:'#000', borderWidth:1, containLabel:false}, g));
  option.title.push({text:titles[i], left:g.left + g.width/2, top:titleTops[i], textAlign:'center', textVerticalAlign:'top', padding:0,
    textStyle:{fontSize:19, fontWeight:'normal', color:'#000', fontFamily:FONT}});
  option.xAxis.push({type:'value', gridIndex:i, min:xLimits[i][0], max:xLimits[i][1],
    name:'{a|G}{b|BP}{a|\u2212  G}{b|RP}{a| [mag]}', nameLocation:'middle', nameGap:29,
    nameTextStyle:{rich:{
      a:{fontSize:16, fontFamily:FONT, color:'#000', lineHeight:20, verticalAlign:'top'},
      b:{fontSize:12, fontFamily:FONT, fontStyle:'italic', color:'#000', lineHeight:20, verticalAlign:'top', padding:[6,2,0,0]}}},
    axisLine:{show:false, onZero:false}, splitLine:{show:false},
    axisTick:{show:true, inside:true, length:5, customValues:xTickValues[i], lineStyle:{color:'#000', width:1}},
    axisLabel:{customValues:xTickValues[i], formatter:fmtX, fontSize:16, color:'#000', margin:5, fontFamily:FONT}});
  option.yAxis.push({type:'value', gridIndex:i, inverse:true, min:yLimits[i][0], max:yLimits[i][1],
    name:'G [mag]', nameLocation:'middle', nameGap:33, nameRotate:90,
    nameTextStyle:{fontSize:16, color:'#000', fontFamily:FONT},
    axisLine:{show:false, onZero:false}, splitLine:{show:false},
    axisTick:{show:true, inside:true, length:5, customValues:yTickValues[i], lineStyle:{color:'#000', width:1}},
    axisLabel:{customValues:yTickValues[i], formatter:v => String(Math.round(v)), fontSize:16, color:'#000', margin:7, fontFamily:FONT}});

  const lb = legendBoxes[i];
  option.legend.push({left:lb.left, top:lb.top, orient:'vertical', itemGap:7, itemWidth:45, itemHeight:14,
    padding:[7, lb.w - 128, 5, 4], backgroundColor:'rgba(255,255,255,0.8)', borderColor:'#cccccc', borderWidth:1, borderRadius:4,
    selectedMode:false, z:20, textStyle:{fontSize:16, fontFamily:FONT, color:'#000', lineHeight:18},
    data:[{name:'ZAMS', icon:dashIcon, itemStyle:{borderWidth:0}}, {name:isoLabels[i], icon:smallDotIcon, itemStyle:{borderWidth:0}}, {name:'Members', icon:memDotIcon, itemStyle:{borderWidth:0}}]});
  option.legend.push({left:lb.left + 164, top:lb.top + 7, orient:'vertical', itemGap:7, itemWidth:45, itemHeight:14,
    padding:0, selectedMode:false, z:21, textStyle:{fontSize:16, fontFamily:FONT, color:'#000', lineHeight:18},
    data:[{name:bssLabels[i], icon:bssIcon, itemStyle:{borderWidth:0}}, {name:pbsLabels[i], icon:triIcon, itemStyle:{borderWidth:0}}]});

  const ax = {xAxisIndex:i, yAxisIndex:i};
  option.series.push(Object.assign({type:'scatter', name:'Members', data:members[i], symbolSize:5.5, itemStyle:{color:'#808080', opacity:1}, z:2, silent:true}, ax));
  option.series.push(Object.assign({type:'scatter', name:'Members', data:denseMembers[i], symbolSize:7, itemStyle:{color:'#808080', opacity:1}, z:2, silent:true}, ax));
  option.series.push(Object.assign({type:'line', name:'ZAMS', data:zams[i], symbol:'none', showSymbol:false, lineStyle:{color:ISO_COLOR, width:2.3, type:[9,4], opacity:1}, itemStyle:{color:ISO_COLOR}, z:3, silent:true}, ax));
  option.series.push(Object.assign({type:'scatter', name:isoLabels[i], data:isochrones[i], symbolSize:3.6, itemStyle:{color:ISO_COLOR, opacity:1}, z:4, silent:true}, ax));
  option.series.push(Object.assign({type:'scatter', name:bssLabels[i], data:bss[i], symbolSize:7.5, itemStyle:{color:'#0000ff', opacity:1}, z:5, silent:true}, ax));
  option.series.push(Object.assign({type:'scatter', name:pbsLabels[i], data:pbs[i], symbol:'triangle', symbolSize:8, itemStyle:{color:'#008000', opacity:1}, z:6, silent:true}, ax));
  option.series.push(Object.assign({type:'custom', data:[regionBoxes[i]], renderItem:boxRender, encode:{x:[0,1,4], y:[2,3,5,6]}, z:7, silent:true}, ax));
  option.series.push(Object.assign({type:'scatter', data:turnoffPoints[i].map(p => [p[0], p[1]]), symbol:starPath, symbolSize:11, itemStyle:{color:'#ff0000', opacity:1}, z:8, silent:true}, ax));
  option.series.push(Object.assign({type:'custom', data:turnoffPoints[i], renderItem:arrowRender, encode:{x:[0,2], y:[1]}, z:9, silent:true}, ax));
}

const chart = echarts.init(document.getElementById('c'), null, {renderer:'canvas'});
chart.setOption(option);
</script>
</body></html>
